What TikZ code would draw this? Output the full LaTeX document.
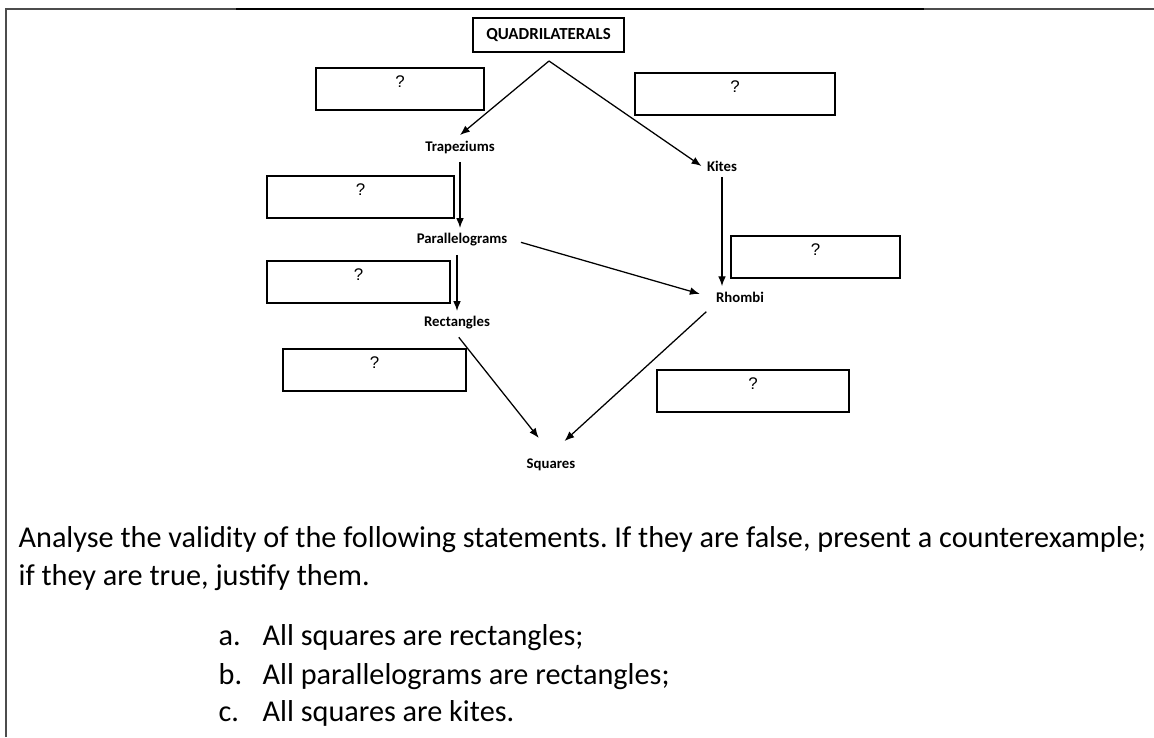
\documentclass[tikz,border=0pt]{standalone}
\usepackage{fontspec}
\setmainfont{Carlito}
\newfontfamily\boxfont{Liberation Sans}
\usetikzlibrary{arrows.meta}
\frenchspacing
\begin{document}
\begin{tikzpicture}[x=0.025cm, y=-0.025cm, >={Latex[length=7pt,width=5.5pt]}, line width=0.9pt,
  qbox/.style={draw, line width=1.1pt, minimum height=1.05cm, inner sep=0pt},
  qmark/.style={anchor=center, yshift=-0.37cm, font=\boxfont\fontsize{12}{14}\selectfont},
  qlabel/.style={font=\bfseries\fontsize{10.5}{12}\selectfont, inner sep=1pt, outer sep=3pt},
  statement/.style={anchor=base west, inner sep=0pt, font=\fontsize{21.5}{25}\selectfont}]

\useasboundingbox (0,0) rectangle (1154,737);

\draw [line width=1.4pt, black!70] (6,737) -- (6,9) -- (1154,9);
\draw [line width=1.8pt] (236,9) -- (924,9);

\node (quad) [draw, line width=1.1pt, minimum width=3.775cm, minimum height=0.85cm, font=\bfseries\fontsize{12}{14}\selectfont] at (548.5,35) {QUADRILATERALS};
\coordinate (apex) at (549,61);

\node (trap) [qlabel] at (460,147) {Trapeziums};
\node (kite) [qlabel] at (722,166) {Kites};
\node (para) [qlabel] at (462,240) {Parallelograms};
\node (rhom) [qlabel] at (740,297) {Rhombi};
\node (rect) [qlabel] at (457,323) {Rectangles};
\node (squa) [qlabel] at (551,465) {Squares};

\node (q1) [qbox, minimum width=4.2cm, label={[qmark]north:?}] at (400,89) {};
\node (q2) [qbox, minimum width=5cm, label={[qmark]north:?}] at (735,94) {};
\node (q3) [qbox, minimum width=4.675cm, label={[qmark]north:?}] at (360.5,197) {};
\node (q4) [qbox, minimum width=4.575cm, label={[qmark]north:?}] at (358.5,282) {};
\node (q5) [qbox, minimum width=4.575cm, label={[qmark]north:?}] at (374.5,370) {};
\node (q6) [qbox, minimum width=4.225cm, label={[qmark]north:?}] at (815.5,257) {};
\node (q7) [qbox, minimum width=4.8cm, label={[qmark]north:?}] at (753,391) {};

\draw [->] (apex) -- (trap.north);
\draw [->] (apex) -- (kite.west);
\draw [->, shorten <=2pt] (trap.south) -- (trap.south |- para.north);
\draw [->, shorten <=2pt] (rect.north |- para.south) -- (rect.north);
\draw [->] (kite.south) -- (kite.south |- rhom.north);
\draw [->, shorten <=6pt, shorten >=8pt] (para.east) -- (rhom.west);
\draw [->, shorten <=2pt, shorten >=14pt] (rect.south) -- (squa.north);
\draw [->, shorten <=4pt, shorten >=13pt] (rhom.south west) -- (squa.north);

\node (line1) [statement] at (18,547) {Analyse the validity of the following statements. If they are false, present a counterexample;};
\node (line2) [statement] at (18,585) {if they are true, justify them.};
\node (mka) [statement] at (218,645) {a.};
\node (ita) [statement] at (262,645) {All squares are rectangles;};
\node (mkb) [statement] at (218,684) {b.};
\node (itb) [statement] at (262,684) {All parallelograms are rectangles;};
\node (mkc) [statement] at (218,721) {c.};
\node (itc) [statement] at (262,721) {All squares are kites.};

\end{tikzpicture}
\end{document}
